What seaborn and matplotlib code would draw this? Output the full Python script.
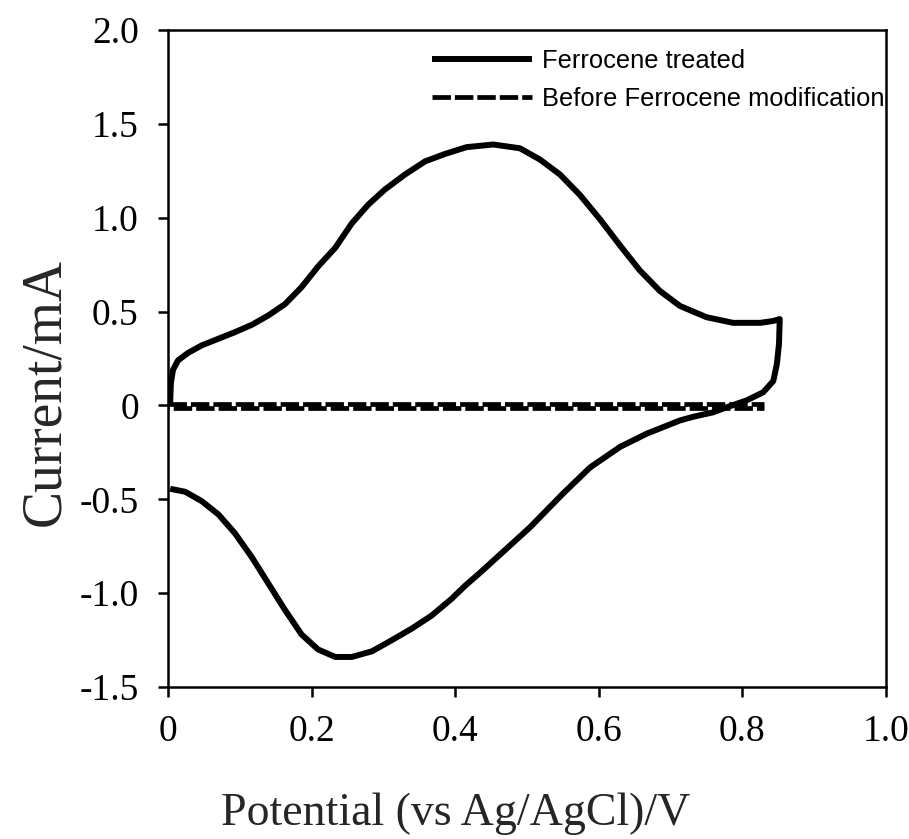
import matplotlib
matplotlib.use("Agg")
import matplotlib.pyplot as plt
import seaborn as sns
import pandas as pd

# ---- data ----
# Ferrocene treated: anodic sweep 0 -> 0.85 V, then cathodic sweep back to 0 V
fc_potential = [0.003, 0.004, 0.007, 0.014, 0.028, 0.047, 0.07, 0.093, 0.117, 0.14,
                0.163, 0.186, 0.209, 0.233, 0.256, 0.279, 0.302, 0.33, 0.358, 0.386,
                0.416, 0.453, 0.49, 0.518, 0.546, 0.574, 0.602, 0.63, 0.657, 0.685,
                0.713, 0.75, 0.787, 0.825, 0.843, 0.852,
                0.851, 0.848, 0.843, 0.829, 0.806, 0.778, 0.759, 0.732, 0.713, 0.667,
                0.63, 0.588, 0.55, 0.504, 0.458, 0.435, 0.414, 0.395, 0.367, 0.339,
                0.312, 0.284, 0.256, 0.233, 0.209, 0.186, 0.163, 0.14, 0.117, 0.093,
                0.07, 0.047, 0.024, 0.003]
fc_current = [0.01, 0.12, 0.19, 0.24, 0.28, 0.32, 0.355, 0.39, 0.43, 0.48,
              0.54, 0.63, 0.74, 0.84, 0.97, 1.07, 1.15, 1.23, 1.30, 1.34,
              1.376, 1.39, 1.37, 1.31, 1.23, 1.12, 0.99, 0.85, 0.72, 0.61,
              0.53, 0.47, 0.44, 0.44, 0.45, 0.46,
              0.33, 0.22, 0.13, 0.07, 0.027, -0.01, -0.037, -0.06, -0.08, -0.15,
              -0.22, -0.33, -0.47, -0.65, -0.81, -0.89, -0.96, -1.03, -1.12, -1.19,
              -1.25, -1.31, -1.34, -1.34, -1.30, -1.22, -1.09, -0.95, -0.81, -0.68,
              -0.58, -0.51, -0.46, -0.444]

# Before ferrocene modification: flat forward and return sweep near zero
before_fwd_potential = [0.0, 0.83]
before_fwd_current = [0.01, 0.01]
before_rev_potential = [0.83, 0.0]
before_rev_current = [-0.013, -0.013]

x_ticks = [0, 0.2, 0.4, 0.6, 0.8, 1.0]
x_tick_labels = ["0", "0.2", "0.4", "0.6", "0.8", "1.0"]
y_ticks = [-1.5, -1.0, -0.5, 0, 0.5, 1.0, 1.5, 2.0]
y_tick_labels = ["-1.5", "-1.0", "-0.5", "0", "0.5", "1.0", "1.5", "2.0"]

series_labels = ["Ferrocene treated", "Before Ferrocene modification"]

# ---- style ----
sns.set_style("ticks")
plt.rcParams["font.family"] = ["Liberation Serif", "DejaVu Serif"]

fig = plt.figure(figsize=(9.09, 8.39), dpi=100)
ax = fig.add_axes([168 / 909, 1 - 687 / 839, (886 - 168) / 909, (687 - 30) / 839])

df_fc = pd.DataFrame({"E": fc_potential, "I": fc_current})
df_bf = pd.DataFrame({"E": before_fwd_potential, "I": before_fwd_current})
df_br = pd.DataFrame({"E": before_rev_potential, "I": before_rev_current})

dash = (0, (3.9, 0.85))
sns.lineplot(data=df_br, x="E", y="I", sort=False, estimator=None, ax=ax,
             color="black", linewidth=3.4, linestyle=(2.3, (3.9, 0.85)),
             label="_nolegend_")
sns.lineplot(data=df_bf, x="E", y="I", sort=False, estimator=None, ax=ax,
             color="black", linewidth=3.4, linestyle=dash,
             label=series_labels[1])
sns.lineplot(data=df_fc, x="E", y="I", sort=False, estimator=None, ax=ax,
             color="black", linewidth=4.3, label=series_labels[0])
for ln in ax.lines:
    ln.set_solid_joinstyle("round")
    ln.set_solid_capstyle("butt")
    ln.set_dash_capstyle("butt")

ax.set_xlim(0, 1.0)
ax.set_ylim(-1.5, 2.0)
ax.set_xticks(x_ticks)
ax.set_xticklabels(x_tick_labels)
ax.set_yticks(y_ticks)
ax.set_yticklabels(y_tick_labels)

for s in ax.spines.values():
    s.set_linewidth(1.8)
    s.set_color("black")
    s.set_visible(True)

ax.tick_params(axis="both", direction="out", length=7, width=1.8, labelsize=27,
               colors="black", top=False, right=False)
ax.tick_params(axis="x", pad=13)
ax.tick_params(axis="y", pad=14)

ax.set_xlabel("Potential (vs Ag/AgCl)/V", fontsize=33)
ax.set_ylabel("Current/mA", fontsize=40)
ax.xaxis.set_label_coords(0.40, -0.16)
ax.yaxis.set_label_coords(-0.135, 0.449)

handles, labels = ax.get_legend_handles_labels()
order = [labels.index(series_labels[0]), labels.index(series_labels[1])]
leg = ax.legend([handles[i] for i in order], [labels[i] for i in order],
                loc="upper left", bbox_to_anchor=(0.368, 0.971), borderaxespad=0,
                borderpad=0, frameon=False, handlelength=3.9, handletextpad=0.4,
                labelspacing=0.55, prop={"family": "Liberation Sans", "size": 18.4})
for t in leg.get_texts():
    t.set_color("black")

fig.savefig("out.png", dpi=100, facecolor="white")
